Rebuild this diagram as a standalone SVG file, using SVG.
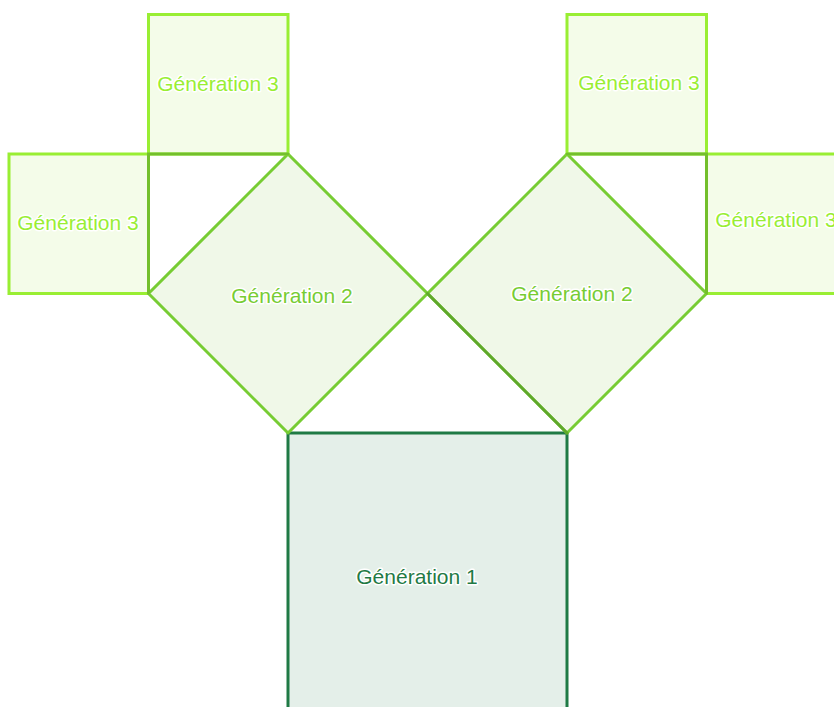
<svg xmlns="http://www.w3.org/2000/svg" width="834" height="707" viewBox="0 0 834 707">
<style>
text{font-family:"Liberation Sans",Arial,sans-serif;font-size:21px;text-anchor:middle;stroke:#ffffff;stroke-width:3px;paint-order:stroke;stroke-linejoin:round}
.g1{fill:#e4efe9;stroke:#1f7a45;stroke-width:3}
.g2{fill:#f0f8e8;stroke:#77cc33;stroke-width:3;stroke-linejoin:round}
.g3{fill:#f4fce9;stroke:#99ee33;stroke-width:3}
.t1{fill:#1f7a45}
.t2{fill:#77cc33}
.t3{fill:#99ee33}
.leg{stroke:#73bf2c;stroke-width:3;fill:none;stroke-linecap:round}
.leg1{stroke:#5fa82a;stroke-width:3;fill:none;stroke-linecap:round}
</style>
<rect width="834" height="707" fill="#ffffff"/>
<g id="gen1">
<rect class="g1" x="288" y="433" width="279" height="279"/>
<text class="t1" x="417" y="584">Génération 1</text>
</g>
<g id="gen2-left">
<polygon class="g2" points="288,433 148.5,293.5 288,154 427.5,293.5"/>
<text class="t2" x="292" y="303">Génération 2</text>
</g>
<g id="gen2-right">
<polygon class="g2" points="427.5,293.5 567,154 706.5,293.5 567,433"/>
<text class="t2" x="572" y="301">Génération 2</text>
</g>
<g id="gen3-top-left">
<rect class="g3" x="148.5" y="14.5" width="139.5" height="139.5"/>
<text class="t3" x="218" y="91">Génération 3</text>
</g>
<g id="gen3-left">
<rect class="g3" x="9" y="154" width="139.5" height="139.5"/>
<text class="t3" x="78" y="230">Génération 3</text>
</g>
<g id="gen3-top-right">
<rect class="g3" x="567" y="14.5" width="139.5" height="139.5"/>
<text class="t3" x="639" y="90">Génération 3</text>
</g>
<g id="gen3-right">
<rect class="g3" x="706.5" y="154" width="139.5" height="139.5"/>
<text class="t3" x="776" y="227">Génération 3</text>
</g>
<g id="connectors">
<path class="leg1" d="M427.5,293.5 L567,433"/>
<path class="leg" d="M148.5,293.5 L148.5,154 L288,154"/>
<path class="leg" d="M567,154 L706.5,154 L706.5,293.5"/>
</g>
</svg>
